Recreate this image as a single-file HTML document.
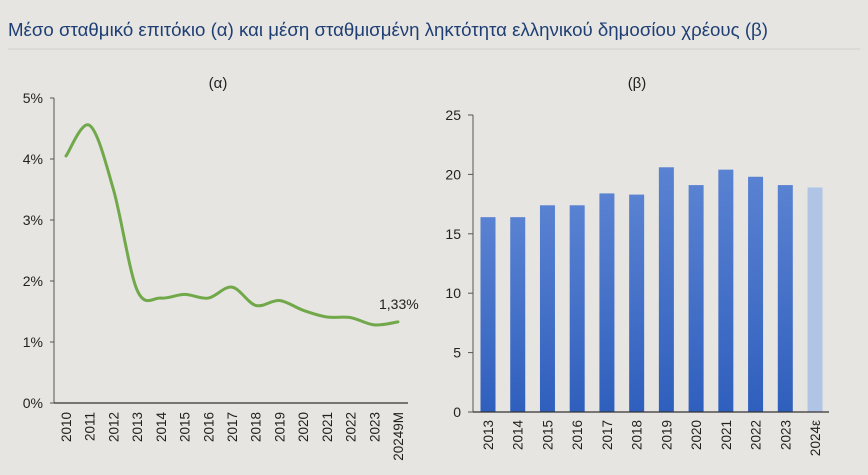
<!DOCTYPE html>
<html><head><meta charset="utf-8">
<style>
html,body{margin:0;padding:0;background:#e6e5e1;}
body{width:868px;height:475px;overflow:hidden;position:relative;font-family:"Liberation Sans",sans-serif;}
</style></head><body>
<svg id="s" width="868" height="475" style="position:absolute;left:0;top:0">
<defs>
<linearGradient id="g" x1="0" y1="0" x2="0" y2="1"><stop offset="0" stop-color="#5a82d2"/><stop offset="1" stop-color="#2f5fbd"/></linearGradient>
</defs>
<text x="8" y="36" font-size="18" font-family="Liberation Sans" fill="#1f3f74" textLength="760" lengthAdjust="spacingAndGlyphs">Μέσο σταθμικό επιτόκιο (α) και μέση σταθμισμένη ληκτότητα ελληνικού δημοσίου χρέους (β)</text>
<line x1="8" y1="49" x2="860" y2="49" stroke="#cfcfcc" stroke-width="1"/>
<text x="218" y="88" font-size="15" font-family="Liberation Sans" text-anchor="middle" fill="#222">(α)</text>
<text x="637" y="88" font-size="15" font-family="Liberation Sans" text-anchor="middle" fill="#222">(β)</text>
</svg>
<script>
const s=document.getElementById('s');const NS='http://www.w3.org/2000/svg';
function el(t,a,txt){const e=document.createElementNS(NS,t);for(const k in a)e.setAttribute(k,a[k]);if(txt!==undefined)e.textContent=txt;s.appendChild(e);return e;}
el('line',{x1:54,y1:98,x2:54,y2:403,stroke:'#555','stroke-width':1});
el('line',{x1:54,y1:403,x2:408,y2:403,stroke:'#333','stroke-width':1.2});
for(let i=0;i<=5;i++){const y=403-i*61;el('line',{x1:50,y1:y,x2:54,y2:y,stroke:'#555'});
el('text',{x:43,y:y+5,'font-size':14,'text-anchor':'end',fill:'#222','font-family':'Liberation Sans'},i+'%');}
const vals=[4.05,4.55,3.5,1.85,1.72,1.78,1.72,1.9,1.6,1.68,1.52,1.41,1.4,1.28,1.33];
const labs=['2010','2011','2012','2013','2014','2015','2016','2017','2018','2019','2020','2021','2022','2023','20249M'];
const P=vals.map((v,i)=>[66+i*(332/14),403-v*61]);
let d='M'+P[0][0]+','+P[0][1];
for(let i=0;i<P.length-1;i++){const p0=P[Math.max(0,i-1)],p1=P[i],p2=P[i+1],p3=P[Math.min(P.length-1,i+2)];
const c1=[p1[0]+(p2[0]-p0[0])/6,p1[1]+(p2[1]-p0[1])/6],c2=[p2[0]-(p3[0]-p1[0])/6,p2[1]-(p3[1]-p1[1])/6];
d+=` C${c1} ${c2} ${p2}`;}
el('path',{d:d,fill:'none',stroke:'#70a84a','stroke-width':3,'stroke-linecap':'round'});
el('text',{x:379,y:309,'font-size':14,fill:'#222','font-family':'Liberation Sans'},'1,33%');
P.forEach((p,i)=>{el('text',{transform:`translate(${p[0]+5},412) rotate(-90)`,'font-size':13.5,'text-anchor':'end',fill:'#222','font-family':'Liberation Sans'},labs[i]);});
el('line',{x1:473,y1:115,x2:473,y2:412,stroke:'#555'});
for(let i=0;i<=5;i++){const y=412-i*5*11.88;el('line',{x1:468,y1:y,x2:473,y2:y,stroke:'#555'});
el('text',{x:461,y:y+5,'font-size':14,'text-anchor':'end',fill:'#222','font-family':'Liberation Sans'},String(i*5));}
const bv=[16.4,16.4,17.4,17.4,18.4,18.3,20.6,19.1,20.4,19.8,19.1,18.9];
const bl=['2013','2014','2015','2016','2017','2018','2019','2020','2021','2022','2023','2024ε'];
bv.forEach((v,i)=>{const cx=488+i*29.73;const h=v*11.88;
el('rect',{x:cx-7.5,y:412-h,width:15,height:h,fill:i==11?'#b0c4e6':'url(#g)'});
el('text',{transform:`translate(${cx+5},420) rotate(-90)`,'font-size':13.5,'text-anchor':'end',fill:'#222','font-family':'Liberation Sans'},bl[i]);});
el('line',{x1:473,y1:412,x2:829,y2:412,stroke:'#333','stroke-width':1.2});
</script>
</body></html>
